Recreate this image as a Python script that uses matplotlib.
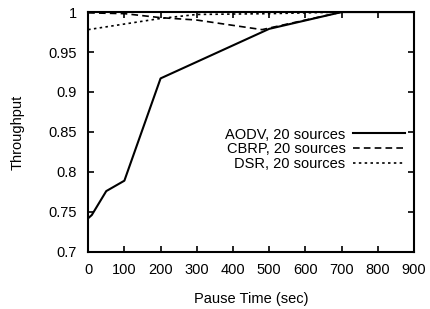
import matplotlib
matplotlib.use("Agg")
import matplotlib.pyplot as plt

plt.rcParams['font.family'] = ['Liberation Sans', 'DejaVu Sans']

# data
aodv_x = [0, 10, 50, 100, 200, 500, 700, 900]
aodv_y = [0.742, 0.746, 0.776, 0.789, 0.917, 0.979, 1.0, 1.0]
cbrp_x = [0, 100, 200, 300, 480, 700, 900]
cbrp_y = [0.999, 0.998, 0.993, 0.99, 0.978, 1.0, 1.0]
dsr_x = [0, 100, 200, 300, 500, 700, 900]
dsr_y = [0.978, 0.985, 0.992, 0.997, 0.998, 1.0, 1.0]

fig = plt.figure(figsize=(4.3, 3.09), dpi=100)
ax = fig.add_axes([0.205, 0.185, 0.758, 0.776])

ax.plot(aodv_x, aodv_y, color='black', lw=1.5, ls='-', label='AODV, 20 sources')
ax.plot(cbrp_x, cbrp_y, color='black', lw=1.2, ls=(0, (4, 2.5)), label='CBRP, 20 sources')
ax.plot(dsr_x, dsr_y, color='black', lw=1.2, ls=(0, (1.5, 2)), label='DSR, 20 sources')

ax.set_xlim(0, 900)
ax.set_ylim(0.7, 1.0)
ax.set_xticks(range(0, 901, 100))
ax.set_yticks([0.7, 0.75, 0.8, 0.85, 0.9, 0.95, 1.0])
ax.set_yticklabels(['0.7', '0.75', '0.8', '0.85', '0.9', '0.95', '1'])
ax.tick_params(direction='in', top=True, right=True, length=4, width=1.2,
               labelsize=10.5, pad=8)
for s in ax.spines.values():
    s.set_linewidth(1.5)

ax.set_xlabel('Pause Time (sec)', fontsize=10.5, labelpad=11)
ax.set_ylabel('Throughput', fontsize=10.5, labelpad=17)

ax.legend(loc='upper right', bbox_to_anchor=(1.0, 0.555), frameon=False,
          markerfirst=False, fontsize=10.5, handlelength=3.6, labelspacing=0.05,
          borderaxespad=0.2, handletextpad=0.5)

fig.savefig('out.png', dpi=100)
